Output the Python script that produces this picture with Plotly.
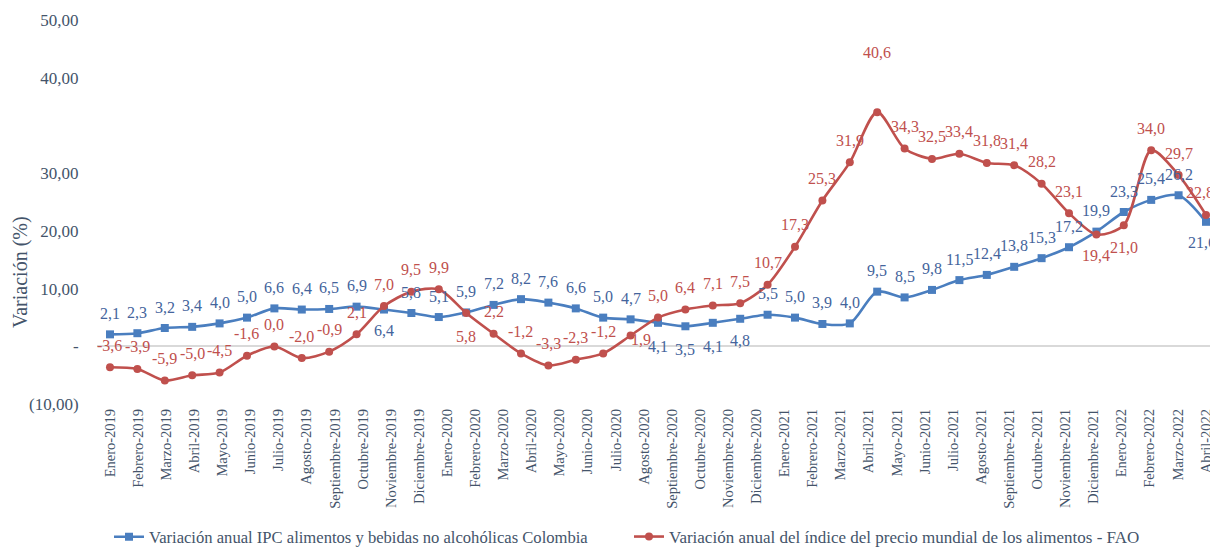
import plotly.graph_objects as go

# ---------------- data ----------------
month_labels = [
    "Enero-2019", "Febrero-2019", "Marzo-2019", "Abril-2019", "Mayo-2019", "Junio-2019",
    "Julio-2019", "Agosto-2019", "Septiembre-2019", "Octubre-2019", "Noviembre-2019", "Diciembre-2019",
    "Enero-2020", "Febrero-2020", "Marzo-2020", "Abril-2020", "Mayo-2020", "Junio-2020",
    "Julio-2020", "Agosto-2020", "Septiembre-2020", "Octubre-2020", "Noviembre-2020", "Diciembre-2020",
    "Enero-2021", "Febrero-2021", "Marzo-2021", "Abril-2021", "Mayo-2021", "Junio-2021",
    "Julio-2021", "Agosto-2021", "Septiembre-2021", "Octubre-2021", "Noviembre-2021", "Diciembre-2021",
    "Enero-2022", "Febrero-2022", "Marzo-2022", "Abril-2022",
]

ipc_colombia = [
    2.1, 2.3, 3.2, 3.4, 4.0, 5.0, 6.6, 6.4, 6.5, 6.9, 6.4, 5.8,
    5.1, 5.9, 7.2, 8.2, 7.6, 6.6, 5.0, 4.7, 4.1, 3.5, 4.1, 4.8,
    5.5, 5.0, 3.9, 4.0, 9.5, 8.5, 9.8, 11.5, 12.4, 13.8, 15.3, 17.2,
    19.9, 23.3, 25.4, 26.2, 21.6,
]

fao_index = [
    -3.6, -3.9, -5.9, -5.0, -4.5, -1.6, 0.0, -2.0, -0.9, 2.1, 7.0, 9.5,
    9.9, 5.8, 2.2, -1.2, -3.3, -2.3, -1.2, 1.9, 5.0, 6.4, 7.1, 7.5,
    10.7, 17.3, 25.3, 31.9, 40.6, 34.3, 32.5, 33.4, 31.8, 31.4, 28.2, 23.1,
    19.4, 21.0, 34.0, 29.7, 22.8,
]

y_tick_text = ["(10,00)", "-", "10,00", "20,00", "30,00", "40,00", "50,00"]
y_tick_vals = [-10, 0, 10, 20, 30, 46.5, 56.6]

y_title = "Variación (%)"
name_ipc = "Variación anual IPC alimentos y bebidas no alcohólicas Colombia"
name_fao = "Variación anual del índice del precio mundial de los alimentos - FAO"

# ---------------- styles ----------------
FONT = "Liberation Serif"
AXIS_COLOR = "#44546A"
BLUE_LINE = "#4A7EBF"
BLUE_TEXT = "#44649C"
RED_LINE = "#C0504D"
RED_TEXT = "#C0504D"

W, H = 1210, 548
ML, MT, MB, MR = 97, 10, 143, 0

# label placement (style): dy in px (positive = up), dx in px
ipc_label_dy = {10: -21, 20: -24, 21: -23, 22: -24, 23: -22, 40: -21}
ipc_label_dx = {40: -4}
fao_label_dy = {13: -23, 36: -21, 37: -22, 19: -4, 28: 60}
fao_label_dx = {19: 10, 40: -6}

n = len(ipc_colombia)
x_idx = list(range(n))


def fmt(v):
    return f"{v:.1f}".replace(".", ",")


fig = go.Figure()
fig.add_trace(go.Scatter(
    x=x_idx, y=ipc_colombia, mode="lines+markers", name=name_ipc,
    line=dict(color=BLUE_LINE, width=2.6, shape="spline", smoothing=0.8),
    marker=dict(symbol="square", size=8, color=BLUE_LINE),
    legend="legend", hoverinfo="skip", cliponaxis=False,
))
fig.add_trace(go.Scatter(
    x=x_idx, y=fao_index, mode="lines+markers", name=name_fao,
    line=dict(color=RED_LINE, width=2.6, shape="spline", smoothing=0.8),
    marker=dict(symbol="circle", size=8, color=RED_LINE),
    legend="legend2", hoverinfo="skip", cliponaxis=False,
))

annotations = []
for i, v in enumerate(ipc_colombia):
    annotations.append(dict(
        x=i, y=v, text=fmt(v), showarrow=False, xref="x", yref="y",
        yshift=ipc_label_dy.get(i, 21), xshift=ipc_label_dx.get(i, 0),
        font=dict(family=FONT, size=16, color=BLUE_TEXT),
    ))
for i, v in enumerate(fao_index):
    annotations.append(dict(
        x=i, y=v, text=fmt(v), showarrow=False, xref="x", yref="y",
        yshift=fao_label_dy.get(i, 22), xshift=fao_label_dx.get(i, 0),
        font=dict(family=FONT, size=16, color=RED_TEXT),
    ))

# y-axis title placed as rotated annotation
plot_w = W - ML - MR
plot_h = H - MT - MB
annotations.append(dict(
    text=y_title, textangle=-90, showarrow=False,
    xref="paper", yref="paper",
    x=(20 - ML) / plot_w, y=((H - MB) - 272) / plot_h,
    xanchor="center", yanchor="middle",
    font=dict(family=FONT, size=20, color=AXIS_COLOR),
))

n_lab = len(month_labels)
tick_pos = [i * (n - 1) / (n_lab - 1) for i in range(n_lab)]

fig.update_layout(
    width=W, height=H,
    margin=dict(l=ML, r=MR, t=MT, b=MB),
    paper_bgcolor="white", plot_bgcolor="white",
    font=dict(family=FONT, color=AXIS_COLOR),
    annotations=annotations,
    showlegend=True,
    legend=dict(
        orientation="h", xref="container", yref="container",
        x=109 / W, y=1 - 537 / H, xanchor="left", yanchor="middle",
        font=dict(family=FONT, size=16.6, color=AXIS_COLOR), bgcolor="rgba(0,0,0,0)",
    ),
    legend2=dict(
        orientation="h", xref="container", yref="container",
        x=629 / W, y=1 - 537 / H, xanchor="left", yanchor="middle",
        font=dict(family=FONT, size=17, color=AXIS_COLOR), bgcolor="rgba(0,0,0,0)",
    ),
    xaxis=dict(
        range=[-0.474, (n - 1) + 0.146], automargin=False,
        tickmode="array", tickvals=tick_pos, ticktext=month_labels,
        tickangle=-90, showgrid=False, zeroline=False, showline=False,
        ticks="", ticklabeloverflow="allow",
        tickfont=dict(family=FONT, size=14.5, color=AXIS_COLOR),
    ),
    yaxis=dict(
        range=[-10.14, 58.3], automargin=False,
        tickmode="array", tickvals=y_tick_vals, ticktext=y_tick_text,
        showgrid=False, showline=False,
        zeroline=True, zerolinecolor="#D9D9D9", zerolinewidth=2,
        ticks="outside", ticklen=14, tickcolor="rgba(0,0,0,0)",
        tickfont=dict(family=FONT, size=17, color=AXIS_COLOR),
    ),
)

fig.write_html(
    "out.html",
    config={"displayModeBar": False},
    post_script="document.body.style.margin='0px';"
                "document.documentElement.style.overflow='hidden';",
)
